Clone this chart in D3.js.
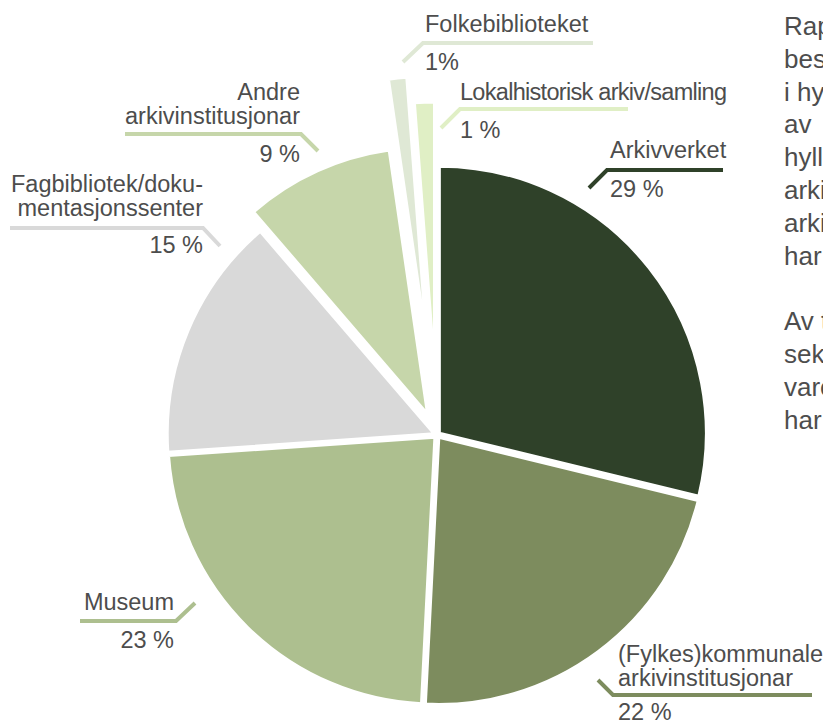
<!DOCTYPE html>
<html>
<head>
<meta charset="utf-8">
<script src="https://cdn.jsdelivr.net/npm/d3@7"></script>
<style>
  body { margin: 0; background: #fff; }
  svg { display: block; font-family: "Liberation Sans", Arial, sans-serif; }
  .label { font-size: 23.5px; fill: #4d4d4d; }
  .bodyText { font-size: 26px; fill: #4d4d4d; }
</style>
</head>
<body>
<div id="chart"></div>
<script>
// data (clockwise from 12 o'clock)
const categories = ["Arkivverket", "(Fylkes)kommunale arkivinstitusjonar", "Museum",
    "Fagbibliotek/dokumentasjonssenter", "Andre arkivinstitusjonar", "Folkebiblioteket",
    "Lokalhistorisk arkiv/samling"];
const shares = [28.8, 22.0, 23.1, 14.8, 9.0, 1.1, 1.2];
const shareLabels = ["29 %", "22 %", "23 %", "15 %", "9 %", "1%", "1 %"];
const labelLines = [
    ["Arkivverket"],
    ["(Fylkes)kommunale", "arkivinstitusjonar"],
    ["Museum"],
    ["Fagbibliotek/doku-", "mentasjonssenter"],
    ["Andre", "arkivinstitusjonar"],
    ["Folkebiblioteket"],
    ["Lokalhistorisk arkiv/samling"]
];
const colors = ["#2f4129", "#7d8c5e", "#adbf8f", "#d9d9d9", "#c6d6aa", "#dfe8d5", "#e0efc5"];

// paragraph text that runs off the right edge
const sideText = ["Rap", "bes", "i hy", "av", "hyll", "arki", "arki", "har", "", "Av t", "sek", "vare", "har"];

const width = 823, height = 724;
const center = {x: 437, y: 435};
const radius = 267;
const explode = [3, 3, 3, 3, 22.7, 92, 66];

// label placement: anchor, x, first baseline, percent baseline, leader polyline
const labelLayout = [
    {anchor: "start", x: 610, y: 158, py: 197, line: [[589, 188], [607, 170], [723, 170]]},
    {anchor: "start", x: 618, y: 662, py: 720, line: [[598, 680], [613, 695], [812, 695]]},
    {anchor: "end", x: 174, y: 610, py: 648, line: [[195, 603], [176, 621], [80, 621]]},
    {anchor: "end", x: 203, y: 192, py: 253, line: [[220, 246], [203, 228], [10, 228]]},
    {anchor: "end", x: 300, y: 100, py: 162, line: [[318, 151], [301, 134], [125, 134]]},
    {anchor: "start", x: 425, y: 32, py: 70, line: [[403, 62], [423, 43], [593, 43]]},
    {anchor: "start", x: 460, y: 100, py: 138, line: [[441, 128], [460, 109], [628, 109]], fit: 267}
];
const lineHeight = 23.5;

const svg = d3.select("#chart").append("svg")
    .attr("width", width)
    .attr("height", height);

const pie = d3.pie().sort(null).value(d => d)(shares);
const arc = d3.arc().innerRadius(0).outerRadius(radius);

// slices, each pushed out along its bisector
svg.append("g")
    .attr("transform", "translate(" + center.x + "," + center.y + ")")
    .selectAll("path")
    .data(pie)
    .join("path")
    .attr("d", arc)
    .attr("fill", (d, i) => colors[i])
    .attr("stroke", "#fff")
    .attr("stroke-width", 3)
    .attr("stroke-linejoin", "miter")
    .attr("transform", (d, i) => {
        const a = (d.startAngle + d.endAngle) / 2;
        return "translate(" + (Math.sin(a) * explode[i]) + "," + (-Math.cos(a) * explode[i]) + ")";
    });

// leader lines
const line = d3.line();
svg.append("g")
    .selectAll("path")
    .data(labelLayout)
    .join("path")
    .attr("d", d => line(d.line))
    .attr("fill", "none")
    .attr("stroke", (d, i) => colors[i])
    .attr("stroke-width", 4);

// labels
const labelG = svg.append("g");
labelLayout.forEach((l, i) => {
    const t = labelG.append("text")
        .attr("class", "label")
        .attr("text-anchor", l.anchor);
    labelLines[i].forEach((s, j) => {
        t.append("tspan")
            .attr("x", l.x)
            .attr("y", l.y + j * lineHeight)
            .text(s);
    });
    if (l.fit) t.select("tspan").attr("textLength", l.fit).attr("lengthAdjust", "spacing");
    labelG.append("text")
        .attr("class", "label")
        .attr("text-anchor", l.anchor)
        .attr("x", l.x)
        .attr("y", l.py)
        .text(shareLabels[i]);
});

// body text on the right
svg.append("g")
    .selectAll("text")
    .data(sideText)
    .join("text")
    .attr("class", "bodyText")
    .attr("x", 784)
    .attr("y", (d, i) => 35 + i * 32.8)
    .attr("xml:space", "preserve")
    .text(d => d);
</script>
</body>
</html>
